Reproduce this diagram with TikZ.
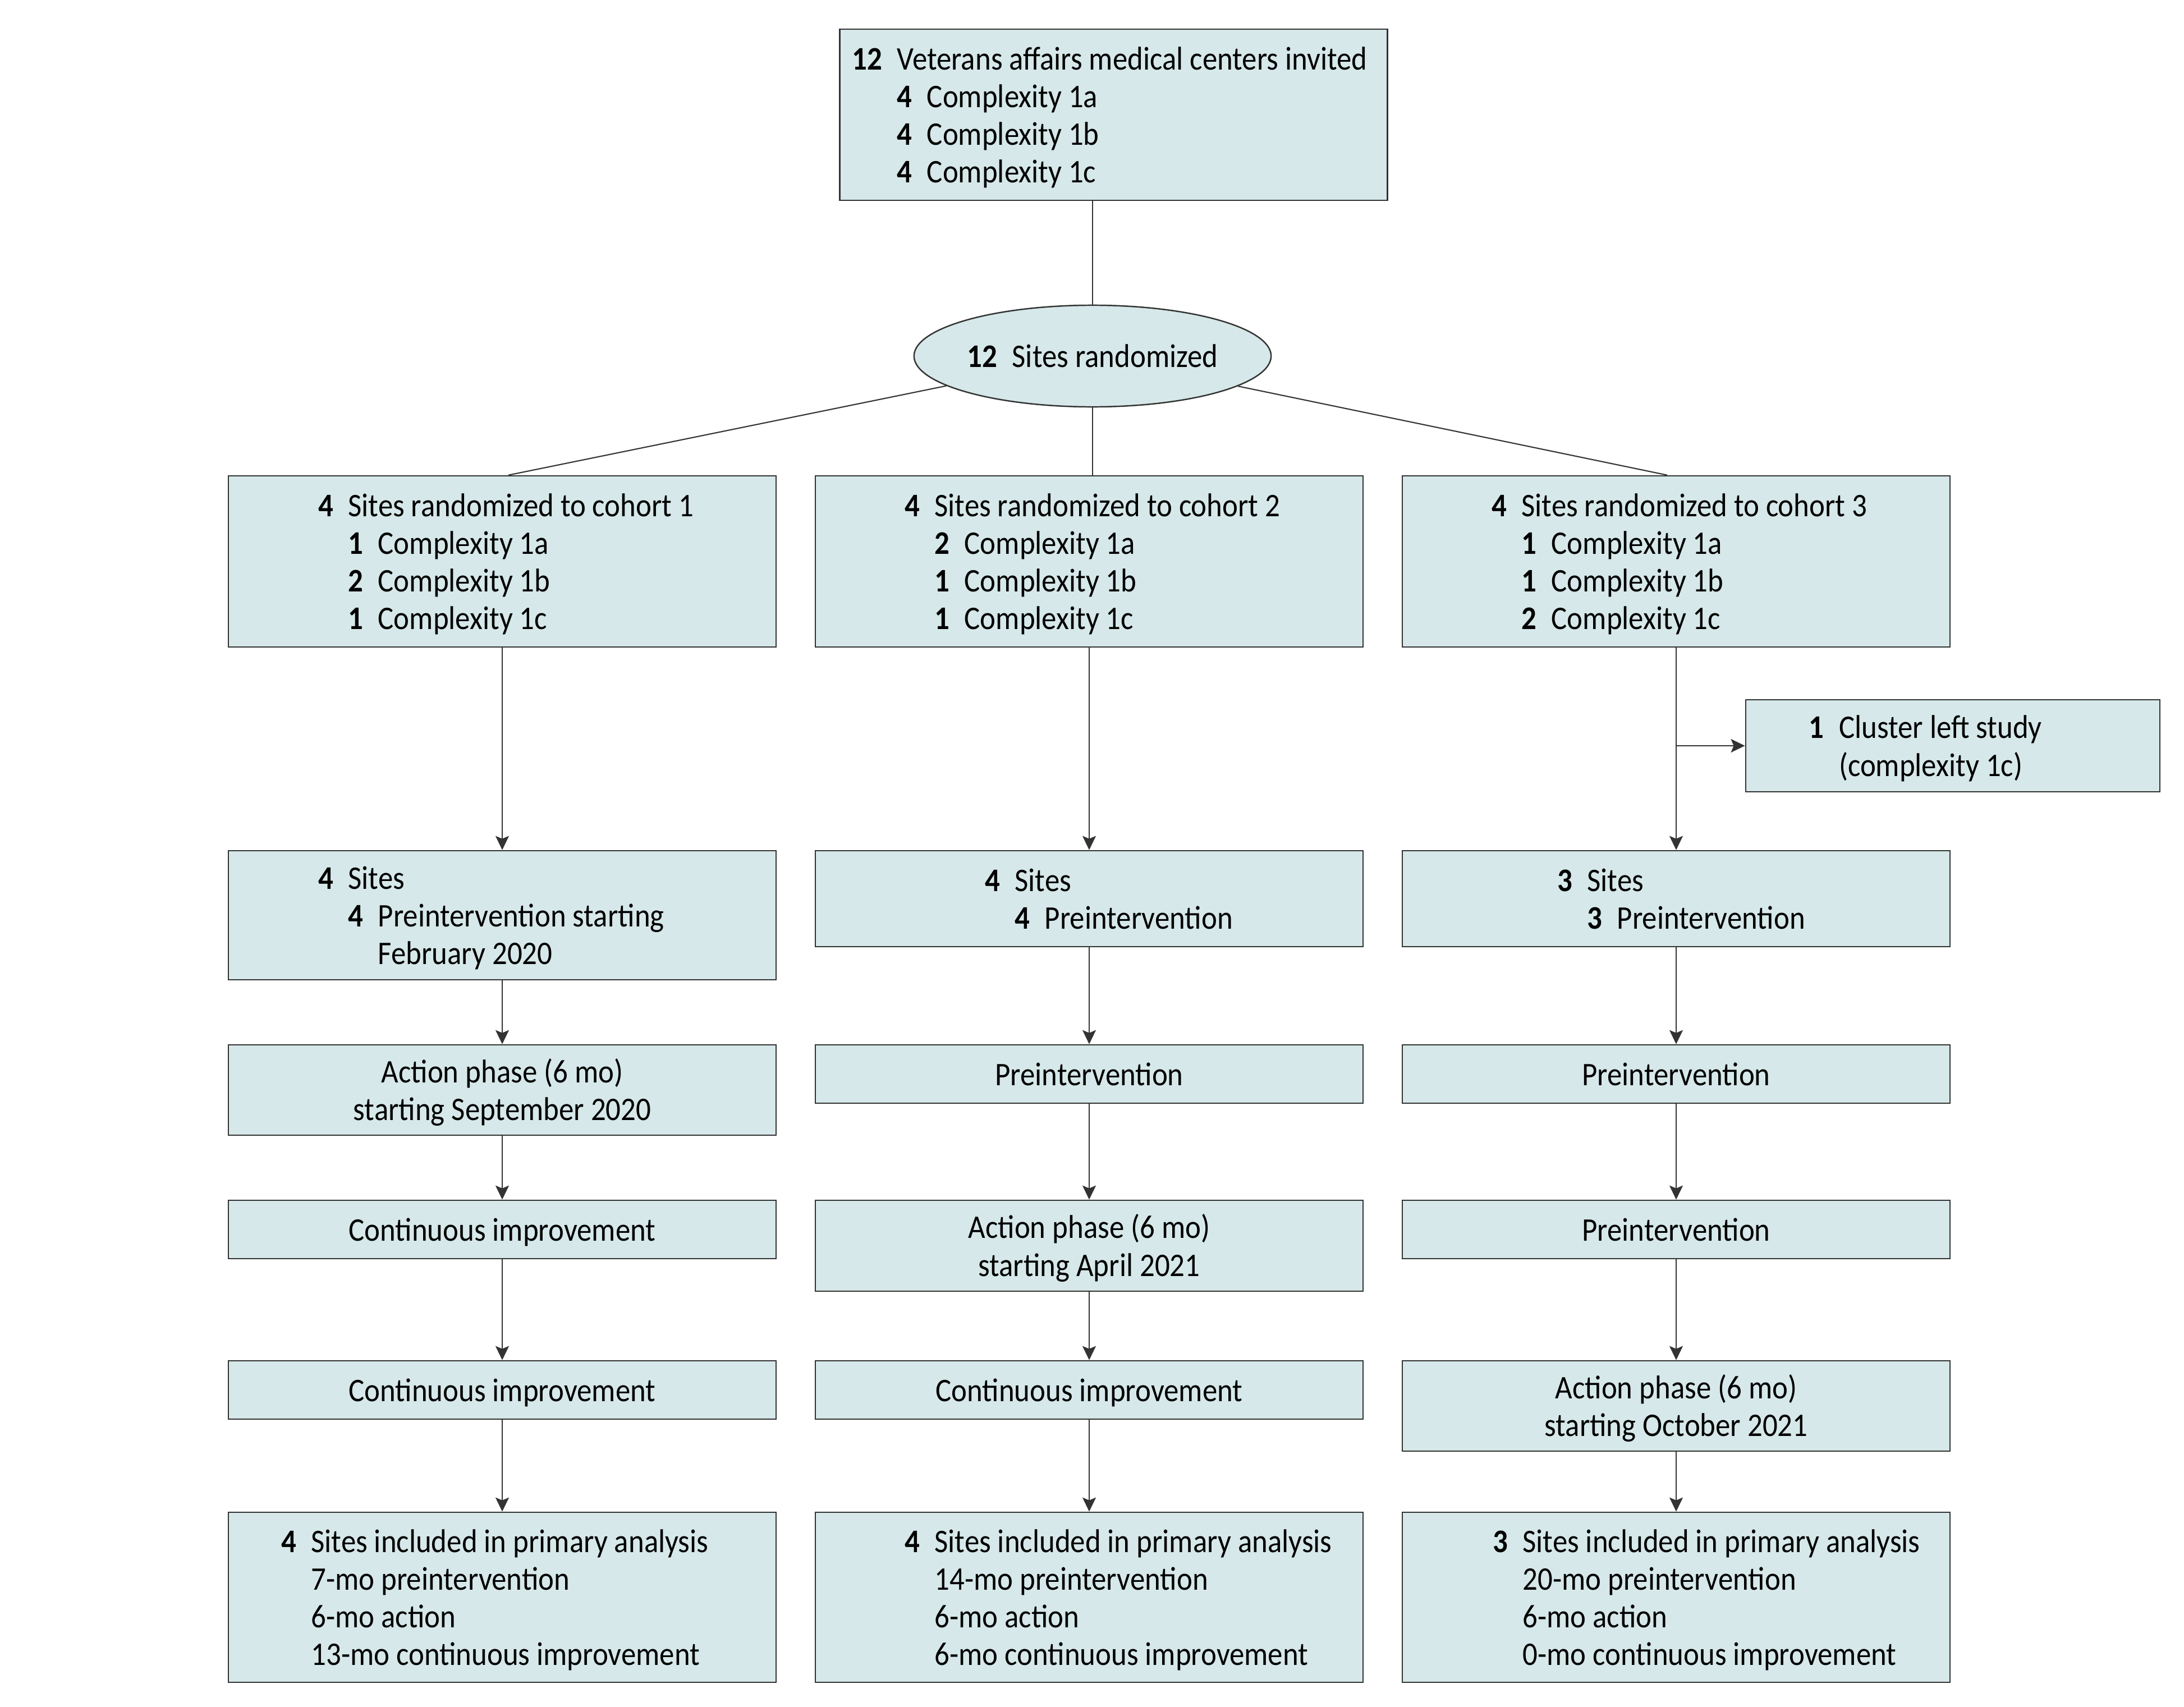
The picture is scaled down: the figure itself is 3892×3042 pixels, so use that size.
\documentclass[tikz,border=0pt]{standalone}
\usepackage{fontspec}
\setmainfont{Carlito}[FakeStretch=0.9]
\usetikzlibrary{arrows.meta,shapes.geometric,calc}
\definecolor{boxfill}{RGB}{214,232,233}
\definecolor{edge}{RGB}{51,51,51}
\newcommand{\nb}[1]{\textbf{#1}\hspace{0.45em}}
\newcommand{\ind}[1]{\phantom{\textbf{#1}\hspace{0.45em}}}
\newcommand{\dn}[1]{\raisebox{-0.07cm}[\height][\depth]{#1}}
\newcommand{\tb}[1]{\dn{\begin{tabular}{@{}l@{}}#1\end{tabular}}}
\newcommand{\tc}[1]{\dn{\begin{tabular}{@{}c@{}}#1\end{tabular}}}
\newcommand{\lt}[2]{\makebox[#1][l]{\tb{#2}}}
\begin{document}
\begin{tikzpicture}[x=0.01cm,y=-0.01cm,
  every node/.style={font=\fontsize{16.7}{19.1}\selectfont},
  box/.style={draw=edge, fill=boxfill, line width=0.7pt, inner sep=0pt, minimum width=9.75cm},
  conn/.style={draw=edge, line width=0.6pt},
  arr/.style={conn, -{Stealth[length=0.25cm, width=0.24cm, inset=0.05cm]}}]
\useasboundingbox (0,0) rectangle (3892,3042);

% top
\node[box, minimum height=3.05cm] (top) at (1984.5,204.5)
  {\lt{9.31cm}{\nb{12}Veterans affairs medical centers invited\\
  \ind{12}\nb{4}Complexity 1a\\ \ind{12}\nb{4}Complexity 1b\\ \ind{12}\nb{4}Complexity 1c}};
\node[ellipse, draw=edge, fill=boxfill, line width=0.7pt, inner sep=0pt,
  minimum width=6.36cm, minimum height=1.81cm] (rand) at (1947,634.5) {\nb{12}Sites randomized};

% cohorts
\node[box, minimum height=3.05cm] (c1) at (895,1000.5)
  {\lt{6.55cm}{\nb{4}Sites randomized to cohort 1\\ \ind{4}\nb{1}Complexity 1a\\
  \ind{4}\nb{2}Complexity 1b\\ \ind{4}\nb{1}Complexity 1c}};
\node[box, minimum height=3.05cm] (c2) at (1941,1000.5)
  {\lt{6.57cm}{\nb{4}Sites randomized to cohort 2\\ \ind{4}\nb{2}Complexity 1a\\
  \ind{4}\nb{1}Complexity 1b\\ \ind{4}\nb{1}Complexity 1c}};
\node[box, minimum height=3.05cm] (c3) at (2987,1000.5)
  {\lt{6.57cm}{\nb{4}Sites randomized to cohort 3\\ \ind{4}\nb{1}Complexity 1a\\
  \ind{4}\nb{1}Complexity 1b\\ \ind{4}\nb{2}Complexity 1c}};

% cluster left
\node[box, minimum width=7.38cm, minimum height=1.64cm] (cl) at (3480,1329)
  {\lt{5.12cm}{\nb{1}Cluster left study\\ \ind{1}(complexity 1c)}};

% sites row
\node[box, minimum height=2.30cm] (s1) at (895,1631)
  {\lt{6.55cm}{\nb{4}Sites\\ \ind{4}\nb{4}Preintervention starting\\ \ind{4}\ind{4}February 2020}};
\node[box, minimum height=1.71cm] (s2) at (1941,1601.5)
  {\lt{3.71cm}{\nb{4}Sites\\ \ind{4}\nb{4}Preintervention}};
\node[box, minimum height=1.71cm] (s3) at (2987,1601.5)
  {\lt{4.23cm}{\nb{3}Sites\\ \ind{3}\nb{3}Preintervention}};

% row 3
\node[box, minimum height=1.61cm] (a1) at (895,1942.5) {\tc{Action phase (6 mo)\\ starting September 2020}};
\node[box, minimum height=1.04cm] (p2) at (1941,1914) {\tc{Preintervention}};
\node[box, minimum height=1.04cm] (p3a) at (2987,1914) {\tc{Preintervention}};

% row 4
\node[box, minimum height=1.04cm] (i1a) at (895,2191) {\tc{Continuous improvement}};
\node[box, minimum height=1.62cm] (a2) at (1941,2220) {\tc{Action phase (6 mo)\\ starting April 2021}};
\node[box, minimum height=1.04cm] (p3b) at (2987,2191) {\tc{Preintervention}};

% row 5
\node[box, minimum height=1.04cm] (i1b) at (895,2477) {\tc{Continuous improvement}};
\node[box, minimum height=1.04cm] (i2) at (1941,2477) {\tc{Continuous improvement}};
\node[box, minimum height=1.61cm] (a3) at (2987,2505.5) {\tc{Action phase (6 mo)\\ starting October 2021}};

% final row
\node[box, minimum height=3.03cm] (f1) at (895,2846.5)
  {\lt{7.87cm}{\nb{4}Sites included in primary analysis\\ \ind{4}7-mo preintervention\\
  \ind{4}6-mo action\\ \ind{4}13-mo continuous improvement}};
\node[box, minimum height=3.03cm] (f2) at (1941,2846.5)
  {\lt{6.57cm}{\nb{4}Sites included in primary analysis\\ \ind{4}14-mo preintervention\\
  \ind{4}6-mo action\\ \ind{4}6-mo continuous improvement}};
\node[box, minimum height=3.03cm] (f3) at (2987,2846.5)
  {\lt{6.53cm}{\nb{3}Sites included in primary analysis\\ \ind{3}20-mo preintervention\\
  \ind{3}6-mo action\\ \ind{3}0-mo continuous improvement}};

% connectors
\draw[conn] (rand.north |- top.south) -- (rand.north);
\draw[conn] (rand) -- ($(c1.north)+(11,0)$);
\draw[conn] (rand.south) -- (rand.south |- c2.north);
\draw[conn] (rand) -- ($(c3.north)+(-16,0)$);

\draw[arr] (c1.south) -- (s1.north);
\draw[arr] (s1.south) -- (a1.north);
\draw[arr] (a1.south) -- (i1a.north);
\draw[arr] (i1a.south) -- (i1b.north);
\draw[arr] (i1b.south) -- (f1.north);

\draw[arr] (c2.south) -- (s2.north);
\draw[arr] (s2.south) -- (p2.north);
\draw[arr] (p2.south) -- (a2.north);
\draw[arr] (a2.south) -- (i2.north);
\draw[arr] (i2.south) -- (f2.north);

\draw[arr] (c3.south) -- (s3.north);
\coordinate (br) at (c3.south |- cl.west);
\draw[arr] (br) -- (cl.west);
\draw[arr] (s3.south) -- (p3a.north);
\draw[arr] (p3a.south) -- (p3b.north);
\draw[arr] (p3b.south) -- (a3.north);
\draw[arr] (a3.south) -- (f3.north);
\end{tikzpicture}
\end{document}
